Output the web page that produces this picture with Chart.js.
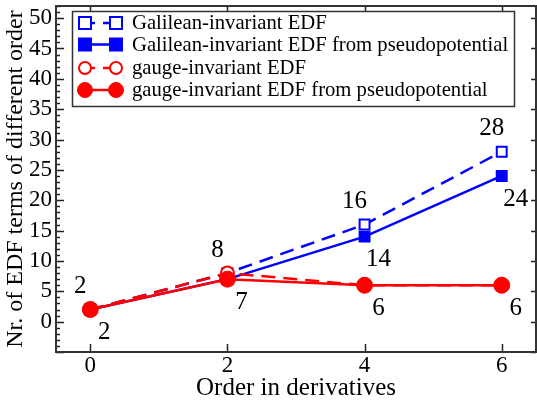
<!DOCTYPE html>
<html>
<head>
<meta charset="utf-8">
<script src="https://cdn.jsdelivr.net/npm/chart.js@4"></script>
<style>
html,body{margin:0;padding:0;background:#fff;}
#wrap{width:537px;height:403px;}
</style>
</head>
<body>
<div id="wrap"><canvas id="c" width="537" height="403"></canvas></div>
<script>
const orders = [0, 2, 4, 6];
const galileanEDF = [2, 8, 16, 28];
const galileanPseudo = [2, 7, 14, 24];
const gaugeEDF = [2, 8, 6, 6];
const gaugePseudo = [2, 7, 6, 6];
const xTicks = [0, 2, 4, 6];
const yTicks = [0, 5, 10, 15, 20, 25, 30, 35, 40, 45, 50];
const seriesNames = [
  'Galilean-invariant EDF',
  'Galilean-invariant EDF from pseudopotential',
  'gauge-invariant EDF',
  'gauge-invariant EDF from pseudopotential'
];

const BLUE = '#0000ff', RED = '#ff0000';
const SERIF = "'Liberation Serif', 'DejaVu Serif', serif";

function pts(arr){ return orders.map((x,i)=>({x:x, y:arr[i]})); }

const datasets = [
  {label: seriesNames[0], data: pts(galileanEDF), borderColor: BLUE, backgroundColor:'#fff',
   pointStyle:'rect', pointRadius:7, borderWidth:2.5, pointBorderWidth:2, borderDash:[14,8], order:3,
   labelPos:'above', labelIdx:[0,1,2,3]},
  {label: seriesNames[1], data: pts(galileanPseudo), borderColor: BLUE, backgroundColor:BLUE,
   pointStyle:'rect', pointRadius:7, borderWidth:2.5, pointBorderWidth:2, order:2,
   labelPos:'below', labelIdx:[0,1,2,3]},
  {label: seriesNames[2], data: pts(gaugeEDF), borderColor: RED, backgroundColor:'#fff',
   pointStyle:'circle', pointRadius:6.5, borderWidth:2.5, pointBorderWidth:2, borderDash:[14,8], order:1,
   labelPos:'above', labelIdx:[]},
  {label: seriesNames[3], data: pts(gaugePseudo), borderColor: RED, backgroundColor:RED,
   pointStyle:'circle', pointRadius:8, borderWidth:2.5, pointBorderWidth:1, order:0,
   labelPos:'below', labelIdx:[2,3]}
];
datasets.forEach(d=>{ d.pointBackgroundColor=d.backgroundColor; d.pointBorderColor=d.borderColor; d.tension=0; d.fill=false; });

const framePlugin = {
  id:'frame',
  afterDatasetsDraw(chart){
    const ctx = chart.ctx, a = chart.chartArea;
    const xs = chart.scales.x, ys = chart.scales.y;
    ctx.save();
    // ticks inward
    ctx.strokeStyle = '#222'; ctx.lineWidth = 1.5;
    ctx.beginPath();
    for (let v = Math.ceil(ys.min); v <= ys.max; v++) {
      const y = Math.round(ys.getPixelForValue(v)) + 0.5;
      const major = (v % 5 === 0);
      ctx.moveTo(a.left, y); ctx.lineTo(a.left + (major ? 8 : 4), y);
      if (major) { ctx.moveTo(a.right, y); ctx.lineTo(a.right - 5, y); }
    }
    xTicks.forEach(v=>{
      const x = Math.round(xs.getPixelForValue(v)) + 0.5;
      ctx.moveTo(x, a.bottom); ctx.lineTo(x, a.bottom - 8);
      ctx.moveTo(x, a.top); ctx.lineTo(x, a.top + 8);
    });
    ctx.stroke();
    // frame
    ctx.strokeStyle = '#333'; ctx.lineWidth = 2;
    ctx.strokeRect(a.left, a.top, a.right - a.left, a.bottom - a.top);

    // value labels
    ctx.fillStyle = '#000';
    ctx.font = '25px ' + SERIF;
    ctx.textAlign = 'center'; ctx.textBaseline = 'middle';
    chart.data.datasets.forEach(ds=>{
      ds.labelIdx.forEach(i=>{
        const p = ds.data[i];
        const px = xs.getPixelForValue(p.x), py = ys.getPixelForValue(p.y);
        if (ds.labelPos === 'above') ctx.fillText(String(p.y), px - 10, py - 23);
        else ctx.fillText(String(p.y), px + 14, py + 23);
      });
    });

    // legend
    const lx = 72, ly = 11, lw = 442, lh = 95;
    ctx.fillStyle = '#fff';
    ctx.fillRect(lx, ly, lw, lh);
    ctx.strokeStyle = '#333'; ctx.lineWidth = 1.5;
    ctx.strokeRect(lx + 0.5, ly + 0.5, lw, lh);
    const rows = [23, 44.5, 68, 90];
    chart.data.datasets.forEach((ds, k)=>{
      const yy = rows[k];
      const x1 = 79 + 6, x2 = 122 - 6;
      ctx.strokeStyle = ds.borderColor; ctx.lineWidth = 2.5;
      ctx.setLineDash(ds.borderDash ? [10, 8] : []);
      ctx.beginPath(); ctx.moveTo(x1, yy); ctx.lineTo(x2, yy); ctx.stroke();
      ctx.setLineDash([]);
      [x1, x2].forEach(cx=>{
        ctx.fillStyle = ds.backgroundColor;
        ctx.lineWidth = ds.pointBorderWidth;
        ctx.beginPath();
        if (ds.pointStyle === 'rect') {
          const r = 6;
          ctx.rect(cx - r, yy - r, 2*r, 2*r);
        } else {
          ctx.arc(cx, yy, ds.pointBorderWidth > 1.5 ? 6 : 7.5, 0, Math.PI*2);
        }
        ctx.fill(); ctx.stroke();
      });
      ctx.fillStyle = '#000';
      ctx.font = '20.7px ' + SERIF;
      ctx.textAlign = 'left'; ctx.textBaseline = 'middle';
      ctx.fillText(ds.label, 132, yy + 1);
    });
    ctx.restore();
  }
};

new Chart(document.getElementById('c'), {
  type: 'line',
  data: { datasets: datasets },
  options: {
    responsive: false,
    animation: false,
    devicePixelRatio: 1,
    layout: { autoPadding: false, padding: { top: 6, right: 1, left: 0, bottom: 0 } },
    plugins: { legend: { display: false }, tooltip: { enabled: false } },
    scales: {
      x: {
        type: 'linear', min: -0.5, max: 6.5,
        afterBuildTicks(s){ s.ticks = xTicks.map(v=>({value:v})); },
        afterFit(s){ s.height = 51; s.paddingLeft = 0; s.paddingRight = 0; },
        grid: { display: false, drawTicks: false },
        border: { display: false },
        ticks: { color:'#000', font:{ family: SERIF, size: 23 }, padding: 0, maxRotation: 0 },
        title: { display: true, text: 'Order in derivatives', color:'#000',
                 font:{ family: SERIF, size: 25 }, padding: { top: -11, bottom: 0 } }
      },
      y: {
        type: 'linear', min: -5, max: 52,
        afterBuildTicks(s){ s.ticks = yTicks.map(v=>({value:v})); },
        afterFit(s){ s.width = 56; s.paddingTop = 0; s.paddingBottom = 0; },
        grid: { display: false, drawTicks: false },
        border: { display: false },
        ticks: { color:'#000', font:{ family: SERIF, size: 23 }, padding: 4 },
        title: { display: true, text: 'Nr. of EDF terms of different order', color:'#000',
                 font:{ family: SERIF, size: 24 }, padding: { top: 1, bottom: 0 } }
      }
    }
  },
  plugins: [framePlugin]
});
</script>
</body>
</html>
